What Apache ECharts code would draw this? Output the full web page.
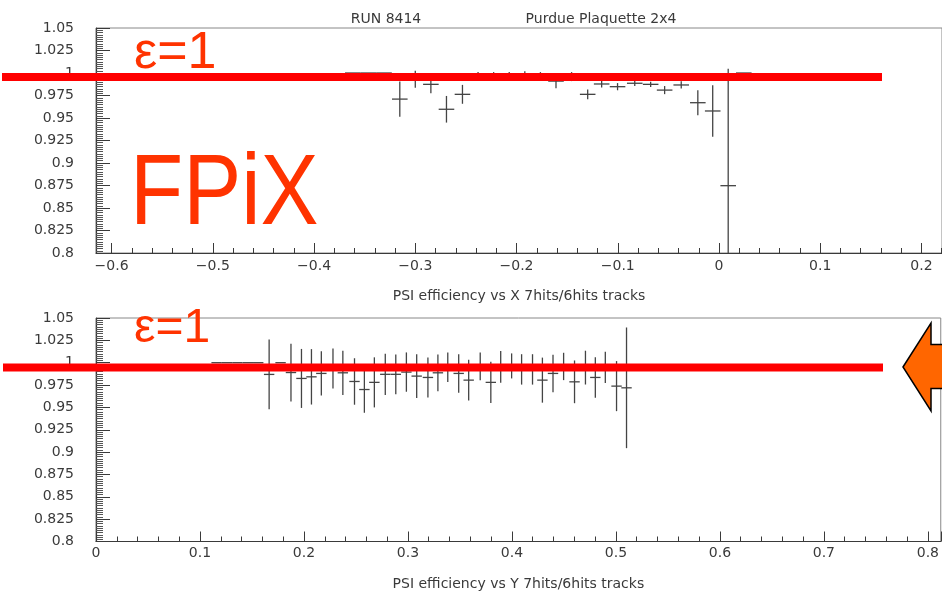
<!DOCTYPE html>
<html><head><meta charset="utf-8">
<script src="https://cdn.jsdelivr.net/npm/echarts@6/dist/echarts.min.js"></script>
<style>html,body{margin:0;padding:0;background:#fff}#c{width:942px;height:594px}</style>
</head><body><div id="c"></div>
<script>
// ---- text ----
const titleRun = 'RUN 8414';
const titlePlaq = 'Purdue Plaquette 2x4';
const xTitleTop = 'PSI efficiency vs X 7hits/6hits tracks';
const xTitleBottom = 'PSI efficiency vs Y 7hits/6hits tracks';
const epsLabel = 'ε=1';
const fpixLabel = 'FPiX';

// ---- top plot: efficiency vs X ----
const topX = [-0.3617,-0.3463,-0.3309,-0.3153,-0.3000,-0.2846,-0.2692,-0.2534,-0.2380,-0.2226,-0.2072,-0.1918,-0.1764,-0.1610,-0.1456,-0.1297,-0.1159,-0.1002,-0.0832,-0.0675,-0.0537,-0.0373,-0.0209,-0.0062,0.0091,0.0245];
const topY = [1,1,1,0.971,0.993,0.9874,0.9597,0.9763,0.997,0.998,0.996,0.998,0.997,0.991,0.996,0.9763,0.9878,0.9848,0.9886,0.9874,0.981,0.9867,0.967,0.9578,0.8748,1];
const topErr = [0,0,0,0.0195,0.0095,0.010,0.0148,0.0105,0.004,0.003,0.005,0.004,0.004,0.008,0.005,0.0055,0.004,0.004,0.003,0.003,0.0045,0.004,0.0139,0.0287,0.13,0];
const topBinHalf = 0.0077;

// ---- bottom plot: efficiency vs Y ----
const botX = [0.116,0.126,0.136,0.146,0.156,0.1665,0.1775,0.1875,0.1976,0.2072,0.2167,0.2279,0.2374,0.2486,0.2581,0.2677,0.2782,0.2883,0.2985,0.3084,0.3192,0.3288,0.3383,0.3488,0.3584,0.3695,0.3797,0.3892,0.3997,0.4093,0.4198,0.4293,0.4395,0.4497,0.4602,0.4707,0.4802,0.4898,0.5006,0.5102];
const botY = [1,1,1,1,1,0.9869,1,0.989,0.9824,0.9842,0.988,0.9936,0.9887,0.979,0.970,0.978,0.987,0.987,0.9895,0.985,0.9835,0.9887,0.995,0.988,0.9805,0.996,0.978,0.9953,0.9964,0.9925,0.9925,0.9805,0.988,0.9958,0.9786,0.9945,0.9835,0.9948,0.9738,0.9719];
const botErr = [0,0,0,0,0,0.039,0,0.0323,0.033,0.031,0.0247,0.0224,0.0247,0.026,0.026,0.028,0.023,0.0223,0.022,0.0245,0.0224,0.0206,0.0165,0.0215,0.0228,0.0155,0.023,0.0178,0.014,0.017,0.017,0.0252,0.021,0.0153,0.0239,0.0189,0.0226,0.0174,0.028,0.0675];
const botBinHalf = 0.005;

// ---- axis ranges ----
const yMin = 0.8, yMax = 1.05, yStep = 0.025;
const topXMin = -0.6154, topXMax = 0.2203, topXStep = 0.1;
const topMinorMin = -0.6, topMinorStep = 0.02;
const botXMin = 0, botXMax = 0.8124, botXStep = 0.1;

const AX = '#3a3a3a';
const FONT = 'DejaVu Sans';

// layout of the top frame (pixels)
const TOP_LEFT = 96, TOP_RIGHT = -5, TOP_W = 942 - TOP_LEFT - TOP_RIGHT;
const minorGridLeft = TOP_LEFT + (topMinorMin - topXMin) / (topXMax - topXMin) * TOP_W;

function fmtX(v) {
  if (Math.abs(v) < 1e-9) return '0';
  const s = Math.abs(v).toFixed(1);
  return v < 0 ? '\u2212' + s : s;
}
function fmtY(v) { return String(parseFloat(v.toFixed(3))); }

function errRender(half) {
  return function (params, api) {
    const x = api.value(0), y = api.value(1), e = api.value(2);
    const cs = params.coordSys;
    const cy = v => Math.max(cs.y, Math.min(cs.y + cs.height, v));
    const pL = api.coord([x - half, y]);
    const pR = api.coord([x + half, y]);
    const pT = api.coord([x, y + e]);
    const pB = api.coord([x, y - e]);
    const st = { stroke: '#444', lineWidth: 1.3 };
    const ch = [];
    if (pL[1] >= cs.y && pL[1] <= cs.y + cs.height)
      ch.push({ type: 'line', shape: { x1: pL[0], y1: pL[1], x2: pR[0], y2: pR[1] }, style: st });
    if (e > 0)
      ch.push({ type: 'line', shape: { x1: pT[0], y1: cy(pT[1]), x2: pB[0], y2: cy(pB[1]) }, style: st });
    return { type: 'group', children: ch };
  };
}

function yAxisCfg(gi) {
  return {
    type: 'value', gridIndex: gi, min: yMin, max: yMax, interval: yStep,
    axisLine: { show: true, onZero: false, lineStyle: { color: AX, width: 1.2 } },
    axisTick: { show: true, inside: true, length: 14, lineStyle: { color: AX } },
    minorTick: { show: true, splitNumber: 10, length: 7, lineStyle: { color: '#555' } },
    splitLine: { show: false },
    axisLabel: { margin: 22, color: AX, fontFamily: FONT, fontSize: 14, formatter: fmtY }
  };
}

const nameStyle = { color: AX, fontFamily: FONT, fontSize: 14 };

const option = {
  backgroundColor: '#fff',
  animation: false,
  title: [
    { text: titleRun, left: 381, top: 7, textAlign: 'center', textStyle: { color: AX, fontFamily: FONT, fontSize: 14, fontWeight: 'normal' } },
    { text: titlePlaq, left: 596, top: 7, textAlign: 'center', textStyle: { color: AX, fontFamily: FONT, fontSize: 14, fontWeight: 'normal' } }
  ],
  grid: [
    { left: TOP_LEFT, top: 28, right: TOP_RIGHT, height: 225, show: true, borderColor: '#888', borderWidth: 1 },
    { left: 96, top: 318, right: -5, height: 223.5, show: true, borderColor: '#888', borderWidth: 1 },
    { left: minorGridLeft, top: 28, right: TOP_RIGHT, height: 225, show: false }
  ],
  xAxis: [
    {
      type: 'value', gridIndex: 0, min: topXMin, max: topXMax,
      minInterval: topXStep, maxInterval: topXStep,
      axisLine: { show: true, onZero: false, lineStyle: { color: AX, width: 1.2 } },
      axisTick: { show: true, inside: true, length: 10, lineStyle: { color: AX } },
      splitLine: { show: false },
      axisLabel: { margin: 6, color: AX, fontFamily: FONT, fontSize: 14, formatter: fmtX, showMinLabel: false, showMaxLabel: false },
      name: xTitleTop, nameLocation: 'middle', nameGap: 36, nameTextStyle: nameStyle
    },
    {
      type: 'value', gridIndex: 2, min: topMinorMin, max: topXMax, interval: topMinorStep,
      axisLine: { show: false, onZero: false },
      axisTick: { show: true, inside: true, length: 5, lineStyle: { color: AX } },
      splitLine: { show: false },
      axisLabel: { show: false }
    },
    {
      type: 'value', gridIndex: 1, min: botXMin, max: botXMax, interval: botXStep,
      axisLine: { show: true, onZero: false, lineStyle: { color: AX, width: 1.2 } },
      axisTick: { show: true, inside: true, length: 10, lineStyle: { color: AX } },
      minorTick: { show: true, splitNumber: 5, length: 5, lineStyle: { color: AX } },
      splitLine: { show: false },
      axisLabel: { margin: 5, color: AX, fontFamily: FONT, fontSize: 14, formatter: fmtX, showMaxLabel: false },
      name: xTitleBottom, nameLocation: 'middle', nameGap: 36, nameTextStyle: nameStyle
    }
  ],
  yAxis: [
    yAxisCfg(0),
    yAxisCfg(1),
    { type: 'value', gridIndex: 2, min: yMin, max: yMax, show: false }
  ],
  series: [
    {
      type: 'custom', xAxisIndex: 0, yAxisIndex: 0,
      renderItem: errRender(topBinHalf),
      encode: { x: 0, y: 1 },
      data: topX.map((x, i) => [x, topY[i], topErr[i]]),
      z: 2
    },
    {
      type: 'custom', xAxisIndex: 2, yAxisIndex: 1,
      renderItem: errRender(botBinHalf),
      encode: { x: 0, y: 1 },
      data: botX.map((x, i) => [x, botY[i], botErr[i]]),
      z: 2
    }
  ],
  graphic: [
    { type: 'rect', shape: { x: 2, y: 73, width: 880, height: 8 }, style: { fill: '#ff0000' }, z: 10 },
    { type: 'rect', shape: { x: 3, y: 363.5, width: 880, height: 8 }, style: { fill: '#ff0000' }, z: 10 },
    { type: 'text', x: 134, y: 80, z: 11, style: { text: epsLabel, fill: '#ff3300', font: '52px "Liberation Sans"', textVerticalAlign: 'bottom' } },
    { type: 'text', x: 134, y: 353, z: 11, style: { text: epsLabel, fill: '#ff3300', font: '48px "Liberation Sans"', textVerticalAlign: 'bottom' } },
    { type: 'text', x: 130, y: 246, z: 11, scaleX: 0.87, style: { text: fpixLabel, fill: '#ff3300', font: '100px "Liberation Sans"', textVerticalAlign: 'bottom' } },
    { type: 'polygon', z: 11, shape: { points: [[903, 367], [931, 323], [931, 344.5], [960, 344.5], [960, 388.5], [931, 388.5], [931, 411]] }, style: { fill: '#ff6600', stroke: '#000', lineWidth: 1.5 } }
  ]
};

const chart = echarts.init(document.getElementById('c'), null, { renderer: 'canvas' });
chart.setOption(option);
</script>
</body></html>
